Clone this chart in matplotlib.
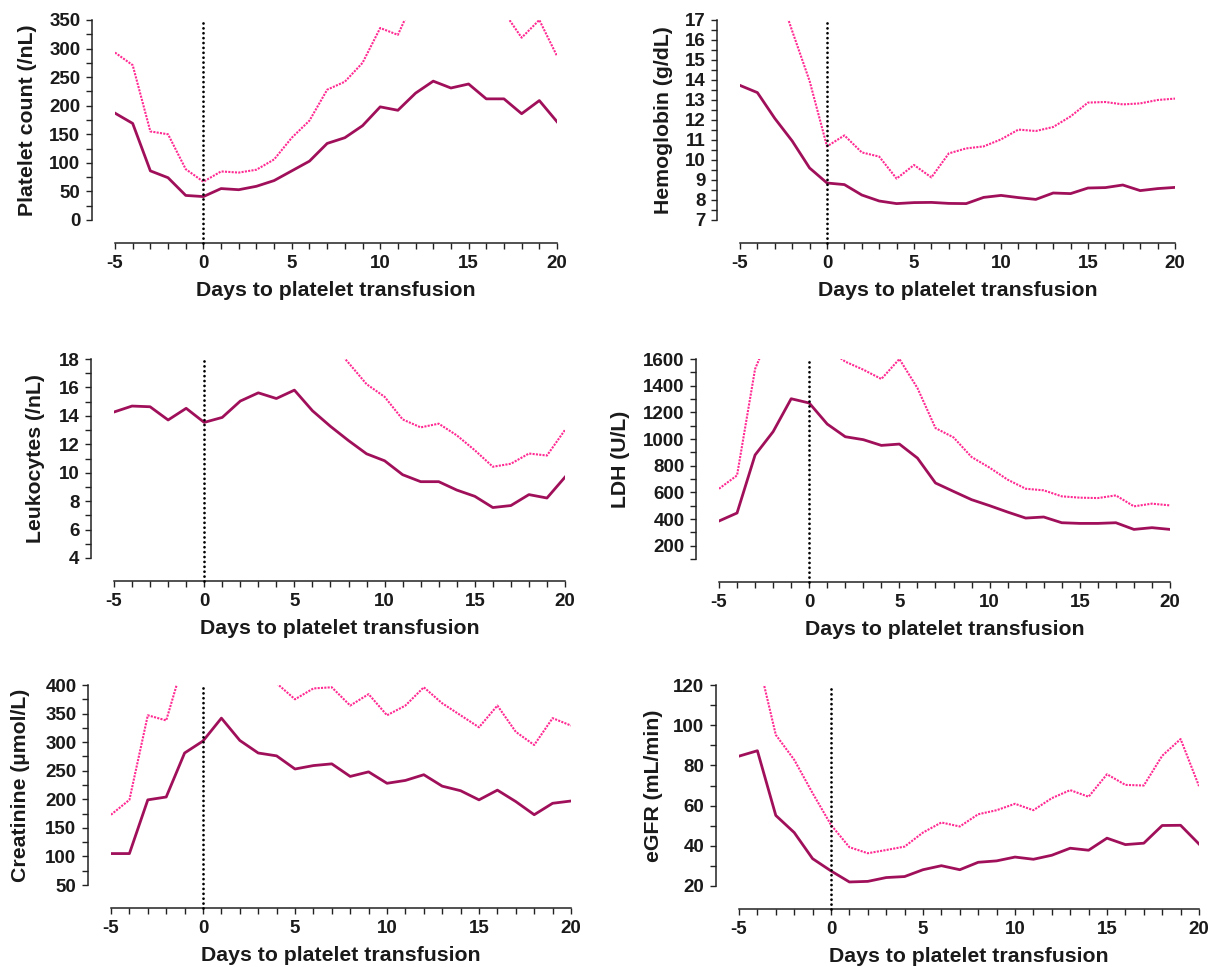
import numpy as np
import matplotlib
matplotlib.use("Agg")
import matplotlib.pyplot as plt
from matplotlib.ticker import MultipleLocator
from matplotlib.transforms import blended_transform_factory

nan = np.nan
days = list(range(-5, 21))

# ---- data (solid = lower line, dotted = upper line) ----
platelet_solid = [187, 169, 86, 74, 43, 41, 55, 53, 59, 69, 86, 103, 134, 144, 165, 198,
                  192, 222, 243, 231, 238, 212, 212, 186, 209, 172]
platelet_dotted = [293, 271, 155, 150, 89, 67, 85, 83, 88, 106, 144, 174, 228, 242, 275, 336,
                   324, 392, nan, nan, nan, nan, 364, 319, 350, 287]

hb_solid = [13.73, 13.37, 12.08, 10.95, 9.6, 8.85, 8.77, 8.25, 7.95, 7.82, 7.87, 7.88, 7.83,
            7.82, 8.13, 8.23, 8.12, 8.03, 8.35, 8.32, 8.6, 8.62, 8.75, 8.47, 8.57, 8.63]
hb_dotted = [nan, nan, 19.0, 16.45, 13.95, 10.68, 11.23, 10.38, 10.17, 9.07, 9.75, 9.13, 10.33,
             10.58, 10.68, 11.03, 11.52, 11.45, 11.65, 12.18, 12.87, 12.9, 12.78, 12.83, 13.0, 13.07]

leu_solid = [14.27, 14.69, 14.64, 13.71, 14.53, 13.54, 13.89, 15.04, 15.62, 15.22, 15.81, 14.36,
             13.26, 12.26, 11.33, 10.84, 9.86, 9.37, 9.37, 8.78, 8.34, 7.55, 7.69, 8.46, 8.22, 9.69]
leu_dotted = [nan, nan, nan, nan, nan, nan, nan, nan, nan, nan, nan, nan, 19.2, 17.73, 16.23,
              15.34, 13.75, 13.19, 13.45, 12.63, 11.58, 10.42, 10.63, 11.35, 11.21, 13.01]

ldh_solid = [385, 445, 880, 1055, 1302, 1270, 1112, 1017, 995, 952, 962, 857, 670, 607, 545,
             500, 452, 407, 415, 372, 367, 367, 372, 322, 335, 322]
ldh_dotted = [627, 727, 1525, 1850, nan, nan, 1680, 1580, 1520, 1450, 1600, 1382, 1082, 1012,
              865, 785, 695, 627, 615, 570, 560, 557, 577, 495, 515, 502]

crea_solid = [105, 105, 199, 204, 281, 302, 342, 303, 281, 276, 253, 259, 262, 240, 248, 228,
              233, 243, 223, 215, 199, 216, 196, 173, 193, 197]
crea_dotted = [173, 199, 347, 338, 447, nan, nan, nan, nan, 403, 375, 394, 396, 364, 384, 347,
               364, 396, 368, 347, 326, 364, 318, 295, 342, 329]

egfr_solid = [84.6, 87.3, 55.1, 46.6, 33.6, 27.5, 22.0, 22.3, 24.2, 24.7, 28.1, 30.1, 28.1,
              31.8, 32.5, 34.4, 33.3, 35.3, 38.8, 37.8, 43.8, 40.6, 41.3, 50.1, 50.2, 40.9]
egfr_dotted = [nan, 134, 95.2, 82.8, 66.2, 50.4, 39.3, 36.3, 37.9, 39.6, 46.6, 51.6, 49.6,
               55.7, 57.7, 60.9, 57.7, 63.7, 67.7, 64.4, 75.6, 70.3, 70.0, 84.8, 93.1, 69.7]

y_labels = ["Platelet count (/nL)", "Hemoglobin (g/dL)", "Leukocytes (/nL)",
            "LDH (U/L)", "Creatinine (\u00b5mol/L)", "eGFR (mL/min)"]
x_label = "Days to platelet transfusion"

SOLID = "#a0105a"
PINK = "#ff2a92"

plt.rcParams["font.family"] = ["Liberation Sans", "DejaVu Sans"]
plt.rcParams["font.weight"] = "bold"
plt.rcParams["axes.unicode_minus"] = False

W, H = 1218, 967
fig = plt.figure(figsize=(W / 100, H / 100), dpi=100)

# pixel boxes: left, right, top, bottom ; ylabel right edge px
panels = [
    dict(box=(115, 557, 20, 220), ylab_x=37, s=platelet_solid, d=platelet_dotted,
         ylim=(0, 350), major=50, minor=25),
    dict(box=(740, 1175, 20, 220), ylab_x=673, s=hb_solid, d=hb_dotted,
         ylim=(7, 17), major=1, minor=0.5),
    dict(box=(114, 565, 359, 558), ylab_x=45, s=leu_solid, d=leu_dotted,
         ylim=(4, 18), major=2, minor=1),
    dict(box=(719, 1170, 359, 559), ylab_x=630, s=ldh_solid, d=ldh_dotted,
         ylim=(100, 1600), major=200, minor=100),
    dict(box=(111, 571, 685, 885), ylab_x=30, s=crea_solid, d=crea_dotted,
         ylim=(50, 400), major=50, minor=25),
    dict(box=(739, 1199, 685, 886), ylab_x=663, s=egfr_solid, d=egfr_dotted,
         ylim=(20, 120), major=20, minor=10),
]

OFF_PX = 23
off_pt = OFF_PX * 72 / 100

for i, p in enumerate(panels):
    l, r, t, b = p["box"]
    ax = fig.add_axes([l / W, 1 - b / H, (r - l) / W, (b - t) / H])
    ax.plot(days, p["d"], color=PINK, lw=1.5, linestyle=(0, (1, 0.6)), zorder=3)
    ax.plot(days, p["s"], color=SOLID, lw=2.0, zorder=4)
    ax.set_xlim(-5, 20)
    ax.set_ylim(*p["ylim"])
    if p["ylim"][0] == 100:
        ax.set_yticks(np.arange(200, 1601, 200))
    else:
        ax.yaxis.set_major_locator(MultipleLocator(p["major"]))
    ax.yaxis.set_minor_locator(MultipleLocator(p["minor"]))
    ax.xaxis.set_major_locator(MultipleLocator(5))
    ax.xaxis.set_minor_locator(MultipleLocator(1))

    # vertical dotted line at day 0, running from x spine to top
    trans = blended_transform_factory(ax.transData, ax.transAxes)
    frac = OFF_PX / (b - t)
    ax.plot([0, 0], [-frac, 1], transform=trans, color="black", lw=2.0,
            linestyle=(0, (0.01, 1.75)), dash_capstyle="round",
            clip_on=False, zorder=5)

    for side in ("top", "right"):
        ax.spines[side].set_visible(False)
    ax.spines["left"].set_position(("outward", off_pt))
    ax.spines["bottom"].set_position(("outward", off_pt))
    for side in ("left", "bottom"):
        ax.spines[side].set_linewidth(1.1)
        ax.spines[side].set_color("#222222")
    ax.tick_params(axis="both", which="both", direction="out", length=4.3, width=1.0,
                   color="#222222")
    ax.tick_params(axis="both", which="major", labelsize=13.5, pad=4)
    for lab in ax.get_xticklabels() + ax.get_yticklabels():
        lab.set_fontweight("bold")
        lab.set_color("#1a1a1a")
    ax.patch.set_visible(False)

    ax.set_ylabel(y_labels[i], fontsize=15.3, fontweight="bold", color="#1a1a1a")
    ax.set_xlabel(x_label, fontsize=15.3, fontweight="bold", color="#1a1a1a")
    ax.yaxis.set_label_coords(p["ylab_x"] / W, 1 - ((t + b) / 2) / H, transform=fig.transFigure)
    ax.xaxis.set_label_coords(((l + r) / 2) / W, 1 - (b + 61) / H, transform=fig.transFigure)

fig.savefig("out.png", dpi=100)
